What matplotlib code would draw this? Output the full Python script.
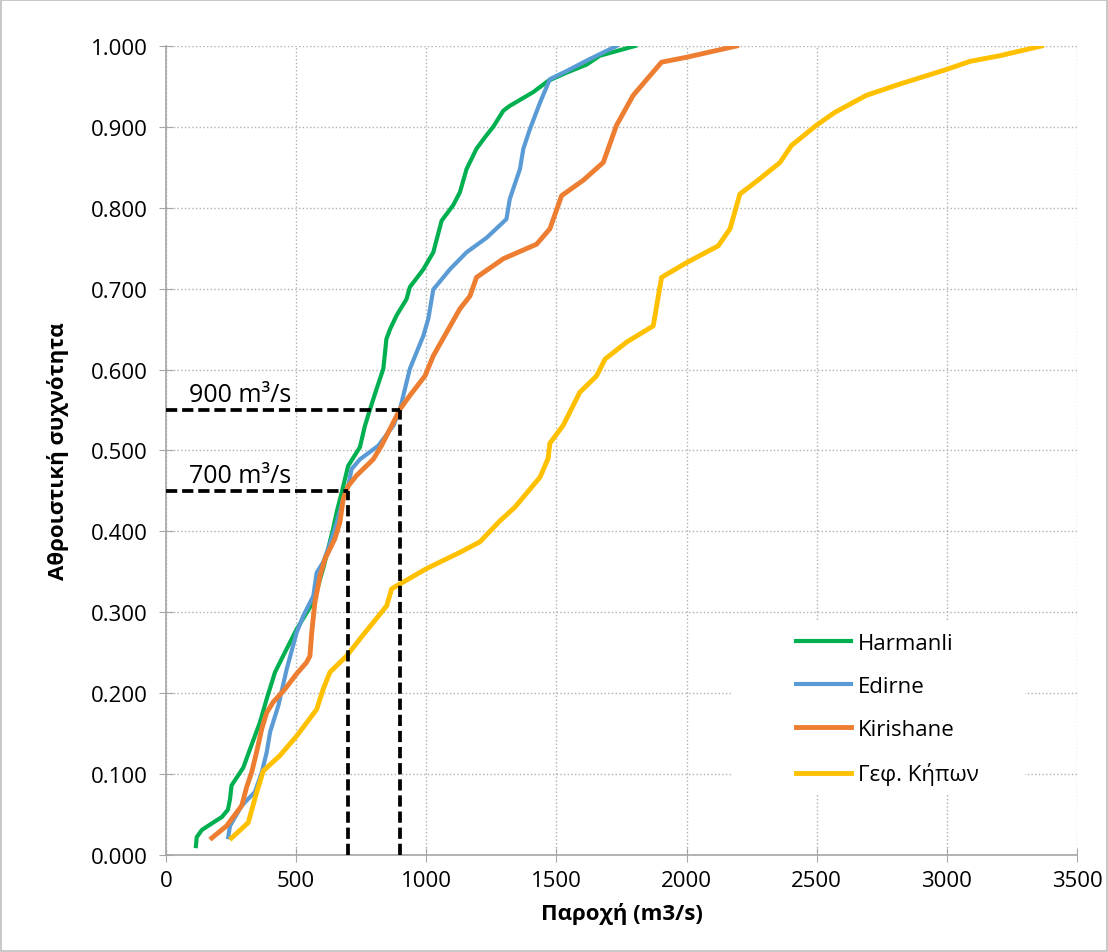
import numpy as np
import matplotlib.pyplot as plt
from matplotlib.ticker import FormatStrFormatter, MultipleLocator

plt.rcParams['font.family'] = ['Open Sans', 'DejaVu Sans']

# Cumulative frequency curves (discharge m3/s, cumulative frequency)
harmanli_q = [115, 118, 138, 181, 215, 238, 246, 252, 297, 323, 361, 387, 419, 464, 502, 566, 604,
              642, 656, 675, 700, 745, 764, 784, 809, 835, 847, 861, 886, 924, 937, 989, 1027,
              1059, 1103, 1129, 1155, 1193, 1225, 1257, 1296, 1321, 1411, 1469, 1539, 1616, 1667, 1802]
harmanli_f = [0.011, 0.022, 0.031, 0.040, 0.047, 0.056, 0.069, 0.086, 0.108, 0.131, 0.164, 0.193,
              0.226, 0.255, 0.279, 0.313, 0.354, 0.403, 0.424, 0.448, 0.481, 0.504, 0.530, 0.551,
              0.576, 0.601, 0.638, 0.650, 0.667, 0.687, 0.702, 0.724, 0.745, 0.784, 0.803, 0.819,
              0.848, 0.873, 0.887, 0.900, 0.920, 0.926, 0.943, 0.957, 0.967, 0.977, 0.988, 1.000]

edirne_q = [239, 246, 291, 342, 368, 387, 400, 432, 464, 502, 528, 566, 579, 604, 637, 656, 681,
            700, 713, 745, 816, 874, 899, 937, 989, 1008, 1027, 1091, 1155, 1232, 1308, 1321,
            1360, 1373, 1398, 1437, 1475, 1539, 1629, 1731]
edirne_f = [0.022, 0.036, 0.061, 0.078, 0.102, 0.127, 0.152, 0.185, 0.230, 0.275, 0.296, 0.320,
            0.349, 0.362, 0.391, 0.411, 0.440, 0.456, 0.477, 0.489, 0.506, 0.531, 0.551, 0.601,
            0.642, 0.663, 0.699, 0.724, 0.745, 0.763, 0.786, 0.811, 0.848, 0.873, 0.897, 0.930,
            0.959, 0.969, 0.984, 1.000]

kirishane_q = [176, 233, 291, 310, 329, 348, 368, 387, 412, 457, 502, 540, 553, 560, 572, 592, 611,
               649, 668, 681, 700, 732, 796, 828, 874, 899, 937, 995, 1027, 1078, 1129, 1168, 1193,
               1296, 1424, 1475, 1520, 1603, 1680, 1731, 1795, 1904, 1999, 2192]
kirishane_f = [0.021, 0.036, 0.061, 0.084, 0.102, 0.127, 0.156, 0.176, 0.189, 0.205, 0.224, 0.238,
               0.246, 0.275, 0.312, 0.345, 0.366, 0.391, 0.411, 0.440, 0.456, 0.469, 0.489, 0.506,
               0.535, 0.551, 0.568, 0.592, 0.617, 0.646, 0.675, 0.691, 0.714, 0.737, 0.755, 0.774,
               0.815, 0.834, 0.856, 0.902, 0.939, 0.980, 0.986, 1.000]

kipon_q = [252, 316, 348, 374, 438, 502, 579, 604, 630, 694, 745, 848, 867, 899, 1001, 1129, 1206,
           1283, 1341, 1398, 1437, 1468, 1475, 1526, 1590, 1654, 1687, 1770, 1872, 1904, 1999,
           2122, 2167, 2205, 2282, 2359, 2403, 2499, 2570, 2691, 2820, 2999, 3089, 3204, 3364]
kipon_f = [0.021, 0.040, 0.077, 0.104, 0.123, 0.147, 0.180, 0.205, 0.226, 0.246, 0.267, 0.308,
           0.329, 0.335, 0.354, 0.374, 0.387, 0.413, 0.430, 0.452, 0.467, 0.490, 0.509, 0.531,
           0.572, 0.592, 0.613, 0.634, 0.654, 0.714, 0.732, 0.753, 0.774, 0.817, 0.836, 0.856,
           0.877, 0.902, 0.918, 0.939, 0.953, 0.971, 0.981, 0.988, 1.000]

# reference discharges marked with dashed lines
ref_q = [700, 900]
ref_f = [0.45, 0.55]
ref_labels = ['700 m³/s', '900 m³/s']

fig = plt.figure(figsize=(11.08, 9.53), dpi=100)
ax = fig.add_axes([0.1498, 0.1018, 0.8222, 0.8489])

ax.plot(harmanli_q, harmanli_f, color='#00B050', lw=3.0, label='Harmanli')
ax.plot(edirne_q, edirne_f, color='#5B9BD5', lw=3.0, label='Edirne')
ax.plot(kirishane_q, kirishane_f, color='#ED7D31', lw=3.5, label='Kirishane')
ax.plot(kipon_q, kipon_f, color='#FFC000', lw=3.5, label='Γεφ. Κήπων')

for q, f, lab in zip(ref_q, ref_f, ref_labels):
    ax.plot([0, q], [f, f], color='black', lw=2.7, ls=(0, (3, 1.3)), zorder=5)
    ax.plot([q, q], [0, f], color='black', lw=2.7, ls=(0, (3, 1.3)), zorder=5)
    ax.text(88, f + 0.011, lab, fontsize=18, ha='left', va='baseline')

ax.set_xlim(0, 3500)
ax.set_ylim(0, 1.0)
ax.xaxis.set_major_locator(MultipleLocator(500))
ax.yaxis.set_major_locator(MultipleLocator(0.1))
ax.yaxis.set_major_formatter(FormatStrFormatter('%.3f'))
ax.grid(True, color='#b0b0b0', ls=':', lw=1.0)
ax.set_axisbelow(True)

for s in ['top', 'right']:
    ax.spines[s].set_visible(False)
for s in ['bottom', 'left']:
    ax.spines[s].set_color('#a6a6a6')
    ax.spines[s].set_linewidth(1.2)
ax.tick_params(axis='x', direction='inout', length=10, color='#a6a6a6', labelsize=16, pad=6)
ax.tick_params(axis='y', direction='inout', length=10, color='#a6a6a6', labelsize=16, pad=8)

ax.set_xlabel('Παροχή (m3/s)', fontsize=16, fontweight='bold', labelpad=8)
ax.set_ylabel('Αθροιστική συχνότητα', fontsize=16, fontweight='bold', labelpad=16)

# white patch behind the legend, as in the spreadsheet chart
ax.add_patch(plt.Rectangle((0.621, 0.0754), 0.322, 0.2136, transform=ax.transAxes,
                           facecolor='white', edgecolor='none', zorder=1.5))
leg = ax.legend(loc='center left', bbox_to_anchor=(0.679, 0.1805), frameon=False, fontsize=16,
                handlelength=2.5, handletextpad=0.3, labelspacing=1.0, borderpad=0)

fig.patches.append(plt.Rectangle((0.001, 0.001), 0.998, 0.998, transform=fig.transFigure,
                                 fill=False, edgecolor='#bfbfbf', lw=1.2))

fig.savefig('out.png', dpi=100)
